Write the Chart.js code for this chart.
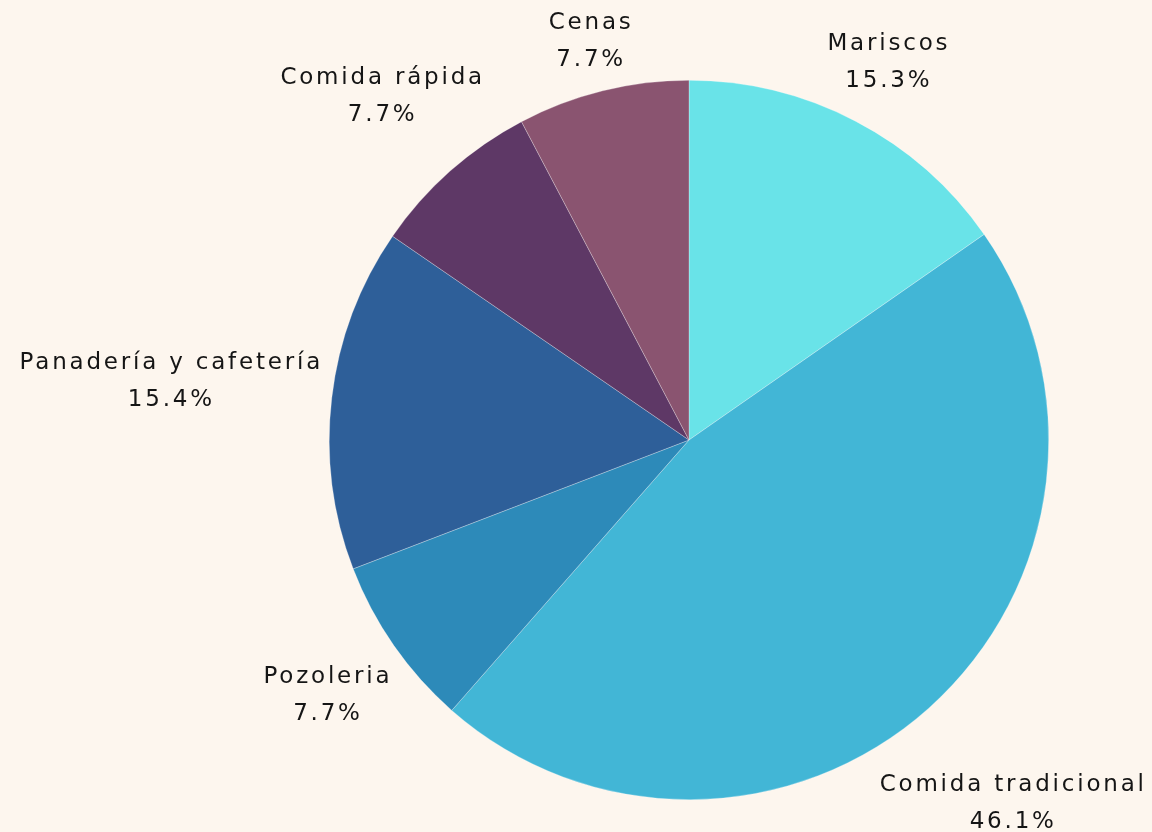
<!DOCTYPE html>
<html>
<head>
<meta charset="utf-8">
<script src="https://cdn.jsdelivr.net/npm/chart.js@4"></script>
<style>
  html, body { margin: 0; padding: 0; background: #fdf6ee; }
  #wrap { width: 1152px; height: 832px; }
</style>
</head>
<body>
<div id="wrap"><canvas id="pie"></canvas></div>
<script>
// datos del gráfico
const categorias = ['Mariscos', 'Comida tradicional', 'Pozoleria', 'Panadería y cafetería', 'Comida rápida', 'Cenas'];
const porcentajes = [15.3, 46.1, 7.7, 15.4, 7.7, 7.7];
const colores = ['#69e3e8', '#42b6d6', '#2d8ab9', '#2e5f99', '#5e3866', '#8a5470'];

const FONT = '23px "DejaVu Sans"';
const SPACING = 2.8;
const LINE_H = 37;

// etiquetas fuera de cada sector
const outsideLabels = {
  id: 'outsideLabels',
  afterDatasetsDraw(chart) {
    const ctx = chart.ctx;
    const meta = chart.getDatasetMeta(0);
    ctx.save();
    ctx.font = FONT;
    ctx.letterSpacing = SPACING + 'px';
    ctx.fillStyle = '#151515';
    ctx.textAlign = 'center';
    ctx.textBaseline = 'middle';
    meta.data.forEach(function (arc, i) {
      const p = arc.getProps(['x', 'y', 'startAngle', 'endAngle', 'outerRadius'], true);
      const mid = (p.startAngle + p.endAngle) / 2;
      const lines = [categorias[i], porcentajes[i].toFixed(1) + '%'];
      let w = 0;
      lines.forEach(function (t) { w = Math.max(w, ctx.measureText(t).width); });
      const h = LINE_H * lines.length;
      const cx = Math.cos(mid), cy = Math.sin(mid);
      const off = Math.abs(cx) * w / 2 + Math.abs(cy) * h / 2;
      const r = p.outerRadius + 8 + off;
      const x = p.x + cx * r;
      const y = p.y + cy * r + 3;
      lines.forEach(function (t, k) {
        // compensar el espacio extra después de la última letra
        ctx.fillText(t, x + SPACING / 2, y - h / 2 + LINE_H * (k + 0.5));
      });
    });
    ctx.restore();
  }
};

new Chart(document.getElementById('pie'), {
  type: 'pie',
  data: {
    labels: categorias,
    datasets: [{
      data: porcentajes,
      backgroundColor: colores,
      borderColor: 'rgba(255, 255, 255, 0.45)',
      borderWidth: 0.6,
    }],
  },
  options: {
    responsive: true,
    maintainAspectRatio: false,
    animation: false,
    layout: {
      padding: { top: 80, right: 103, bottom: 32, left: 329 },
    },
    plugins: {
      legend: { display: false },
      tooltip: { enabled: false },
    },
  },
  plugins: [outsideLabels],
});
</script>
</body>
</html>
